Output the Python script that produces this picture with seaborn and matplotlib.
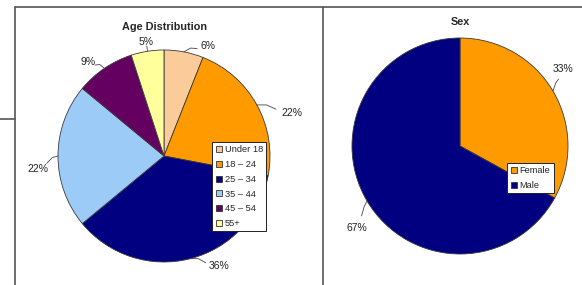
import numpy as np
import matplotlib
matplotlib.use("Agg")
import matplotlib.pyplot as plt
import seaborn as sns
from matplotlib.lines import Line2D

sns.set_style("white")
plt.rcParams['font.family'] = ['Liberation Sans', 'DejaVu Sans']

age_labels = ["Under 18", "18 \u2013 24", "25 \u2013 34", "35 \u2013 44", "45 \u2013 54", "55+"]
age_values = [6, 22, 36, 22, 9, 5]
age_colors = ["#FCCB9A", "#FF9A00", "#000080", "#9CCBF8", "#640160", "#FFFF9C"]

sex_labels = ["Female", "Male"]
sex_values = [33, 67]
sex_colors = ["#FF9A00", "#000080"]

W, H = 582, 285
K = 1.4
fig = plt.figure(figsize=(W / 100, H / 100), dpi=100)

def pie_axes(cx, cy, r):
    # cx, cy in pixels from top-left, r pie radius in pixels
    side = 2 * r * K
    ax = fig.add_axes([(cx - side / 2) / W, (H - cy - side / 2) / H, side / W, side / H])
    return ax

def draw_pie(ax, values, colors, lab_r, nudge):
    wedges, _ = ax.pie(values, colors=colors, startangle=90, counterclock=False,
                       wedgeprops=dict(edgecolor="#3a3a3a", linewidth=0.6))
    ax.set_xlim(-K, K)
    ax.set_ylim(-K, K)
    ax.set_aspect("equal")
    ax.axis("off")
    for w, v, lr, nd in zip(wedges, values, lab_r, nudge):
        mid = np.deg2rad((w.theta1 + w.theta2) / 2)
        ang = mid + np.deg2rad(nd)
        tx, ty = lr * np.cos(ang), lr * np.sin(ang)
        ex, ey = np.cos(mid), np.sin(mid)
        # leader line from the wedge edge to the label
        kx, ky = ex + 0.55 * (tx - ex), ey + 0.55 * (ty - ey)
        ax.plot([ex, (ex + kx) / 2, kx], [ey, (ey + ky) / 2 + 0.02, ky],
                color="#444444", lw=0.6)
        ax.text(tx, ty, f"{v}%", ha="center", va="center", fontsize=7.5, color="#222222")
    return wedges

ax1 = pie_axes(164, 156, 106)
w1 = draw_pie(ax1, age_values, age_colors,
              [1.12, 1.27, 1.16, 1.2, 1.14, 1.09],
              [-11, -10, 12, 6, 5, 0])
ax2 = pie_axes(460, 146, 108)
w2 = draw_pie(ax2, sex_values, sex_colors, [1.19, 1.22], [6, 8])

fig.text(164 / W, 1 - 27 / H, "Age Distribution", ha="center", va="center",
         fontsize=7.8, fontweight="bold")
fig.text(460 / W, 1 - 22 / H, "Sex", ha="center", va="center",
         fontsize=7.8, fontweight="bold")

def legend_for(ax, labels, colors, anchor):
    handles = [Line2D([], [], marker="s", linestyle="", markersize=4.5,
                      markerfacecolor=c, markeredgecolor="#333333", markeredgewidth=0.6)
               for c in colors]
    leg = ax.legend(handles, labels, loc="upper left", bbox_to_anchor=anchor,
                    bbox_transform=fig.transFigure, fontsize=6.7, frameon=True,
                    fancybox=False, framealpha=1, borderpad=0.35, handletextpad=0.1,
                    handlelength=0.9, labelspacing=0.62, borderaxespad=0)
    leg.get_frame().set_edgecolor("#222222")
    leg.get_frame().set_linewidth(0.7)
    return leg

legend_for(ax1, age_labels, age_colors, (212 / W, 1 - 142 / H))
legend_for(ax2, sex_labels, sex_colors, (507 / W, 1 - 163 / H))

# frame lines of the page
frame = dict(color="#555555", lw=1.2, transform=fig.transFigure)
fig.add_artist(Line2D([15 / W, 1], [1 - 7 / H, 1 - 7 / H], **frame))
fig.add_artist(Line2D([15 / W, 15 / W], [0, 1 - 7 / H], **frame))
fig.add_artist(Line2D([323 / W, 323 / W], [0, 1 - 7 / H], **frame))
fig.add_artist(Line2D([0, 15 / W], [1 - 119 / H, 1 - 119 / H], **frame))

fig.savefig("out.png", dpi=100)
